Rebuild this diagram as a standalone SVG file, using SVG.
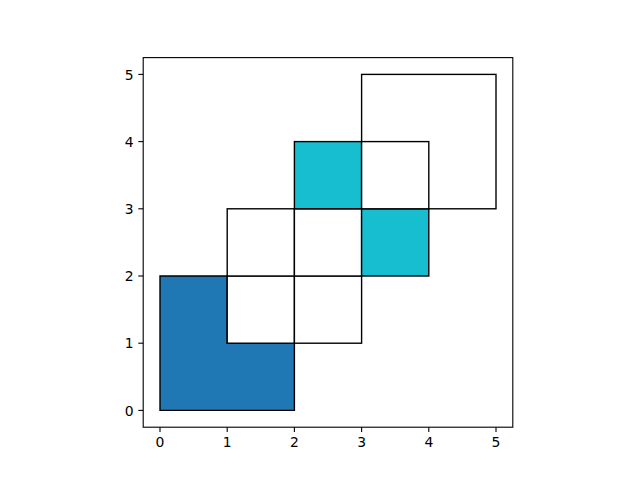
<svg xmlns="http://www.w3.org/2000/svg" width="640" height="480" viewBox="0 0 640 480">
<style>
.cell{stroke:#000;stroke-width:1.39;stroke-linejoin:miter}
.w{fill:#fff}
.c{fill:#17becf}
.b{fill:#1f77b4}
.tick{stroke:#000;stroke-width:1.11}
.lbl{font-family:"DejaVu Sans",sans-serif;font-size:13.9px;fill:#000}
</style>
<rect width="640" height="480" fill="#fff"/>
<g id="plot">
<g id="big"><rect class="cell w" x="361.6" y="74.4" width="134.4" height="134.4"/></g>
<g id="lshape"><polygon class="cell b" points="160,410.4 294.4,410.4 294.4,343.2 227.2,343.2 227.2,276 160,276"/></g>
<g id="c11"><rect class="cell w" x="227.2" y="276" width="67.2" height="67.2"/></g>
<g id="c21"><rect class="cell w" x="294.4" y="276" width="67.2" height="67.2"/></g>
<g id="c12"><rect class="cell w" x="227.2" y="208.8" width="67.2" height="67.2"/></g>
<g id="c22"><rect class="cell w" x="294.4" y="208.8" width="67.2" height="67.2"/></g>
<g id="c23"><rect class="cell c" x="294.4" y="141.6" width="67.2" height="67.2"/></g>
<g id="c32"><rect class="cell c" x="361.6" y="208.8" width="67.2" height="67.2"/></g>
<g id="c33"><rect class="cell w" x="361.6" y="141.6" width="67.2" height="67.2"/></g>
</g>
<g id="axes">
<rect x="143.2" y="57.6" width="369.6" height="369.6" fill="none" stroke="#000" stroke-width="1.11"/>
<g class="tick">
<line x1="160" y1="427.2" x2="160" y2="432.1"/>
<line x1="227.2" y1="427.2" x2="227.2" y2="432.1"/>
<line x1="294.4" y1="427.2" x2="294.4" y2="432.1"/>
<line x1="361.6" y1="427.2" x2="361.6" y2="432.1"/>
<line x1="428.8" y1="427.2" x2="428.8" y2="432.1"/>
<line x1="496" y1="427.2" x2="496" y2="432.1"/>
<line x1="143.2" y1="410.4" x2="138.3" y2="410.4"/>
<line x1="143.2" y1="343.2" x2="138.3" y2="343.2"/>
<line x1="143.2" y1="276" x2="138.3" y2="276"/>
<line x1="143.2" y1="208.8" x2="138.3" y2="208.8"/>
<line x1="143.2" y1="141.6" x2="138.3" y2="141.6"/>
<line x1="143.2" y1="74.4" x2="138.3" y2="74.4"/>
</g>
<g class="lbl" text-anchor="middle">
<text x="160" y="447">0</text>
<text x="227.2" y="447">1</text>
<text x="294.4" y="447">2</text>
<text x="361.6" y="447">3</text>
<text x="428.8" y="447">4</text>
<text x="496" y="447">5</text>
</g>
<g class="lbl" text-anchor="end">
<text x="133.5" y="415.5">0</text>
<text x="133.5" y="348.3">1</text>
<text x="133.5" y="281.1">2</text>
<text x="133.5" y="213.9">3</text>
<text x="133.5" y="146.7">4</text>
<text x="133.5" y="79.5">5</text>
</g>
</g>
</svg>
